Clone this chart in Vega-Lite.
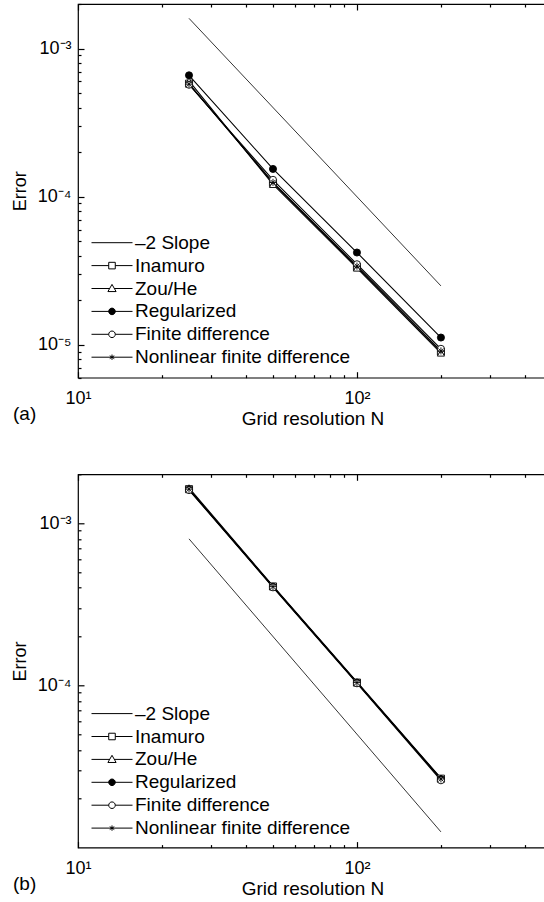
{
  "$schema": "https://vega.github.io/schema/vega-lite/v6.json",
  "padding": {"left": 10, "top": 2, "right": 0, "bottom": 0},
  "datasets": {
    "top": [
      {"N": 25, "error": 0.0016, "series": "–2 Slope"},
      {"N": 200, "error": 0.000025, "series": "–2 Slope"},
      {"N": 25, "error": 0.00058, "series": "Inamuro"},
      {"N": 50, "error": 0.000124, "series": "Inamuro"},
      {"N": 100, "error": 0.0000335, "series": "Inamuro"},
      {"N": 200, "error": 0.0000090, "series": "Inamuro"},
      {"N": 25, "error": 0.000605, "series": "Zou/He"},
      {"N": 50, "error": 0.000121, "series": "Zou/He"},
      {"N": 100, "error": 0.000033, "series": "Zou/He"},
      {"N": 200, "error": 0.0000088, "series": "Zou/He"},
      {"N": 25, "error": 0.00066, "series": "Regularized"},
      {"N": 50, "error": 0.000154, "series": "Regularized"},
      {"N": 100, "error": 0.000042, "series": "Regularized"},
      {"N": 200, "error": 0.0000112, "series": "Regularized"},
      {"N": 25, "error": 0.00057, "series": "Finite difference"},
      {"N": 50, "error": 0.00013, "series": "Finite difference"},
      {"N": 100, "error": 0.000035, "series": "Finite difference"},
      {"N": 200, "error": 0.0000094, "series": "Finite difference"},
      {"N": 25, "error": 0.000575, "series": "Nonlinear finite difference"},
      {"N": 50, "error": 0.000125, "series": "Nonlinear finite difference"},
      {"N": 100, "error": 0.000034, "series": "Nonlinear finite difference"},
      {"N": 200, "error": 0.0000091, "series": "Nonlinear finite difference"}
    ],
    "bottom": [
      {"N": 25, "error": 0.0008, "series": "–2 Slope"},
      {"N": 200, "error": 0.0000125, "series": "–2 Slope"},
      {"N": 25, "error": 0.00162, "series": "Inamuro"},
      {"N": 50, "error": 0.000407, "series": "Inamuro"},
      {"N": 100, "error": 0.000104, "series": "Inamuro"},
      {"N": 200, "error": 0.0000266, "series": "Inamuro"},
      {"N": 25, "error": 0.00165, "series": "Zou/He"},
      {"N": 50, "error": 0.00041, "series": "Zou/He"},
      {"N": 100, "error": 0.000105, "series": "Zou/He"},
      {"N": 200, "error": 0.0000268, "series": "Zou/He"},
      {"N": 25, "error": 0.00161, "series": "Regularized"},
      {"N": 50, "error": 0.000405, "series": "Regularized"},
      {"N": 100, "error": 0.000104, "series": "Regularized"},
      {"N": 200, "error": 0.0000264, "series": "Regularized"},
      {"N": 25, "error": 0.0016, "series": "Finite difference"},
      {"N": 50, "error": 0.000402, "series": "Finite difference"},
      {"N": 100, "error": 0.000103, "series": "Finite difference"},
      {"N": 200, "error": 0.000026, "series": "Finite difference"},
      {"N": 25, "error": 0.00162, "series": "Nonlinear finite difference"},
      {"N": 50, "error": 0.000406, "series": "Nonlinear finite difference"},
      {"N": 100, "error": 0.000104, "series": "Nonlinear finite difference"},
      {"N": 200, "error": 0.0000265, "series": "Nonlinear finite difference"}
    ]
  },
  "vconcat": [
    {
      "width": 469,
      "height": 373.7,
      "data": {"name": "top"},
      "title": {"text": "(a)", "orient": "bottom", "anchor": "start", "frame": "group", "dx": -65, "dy": -24, "offset": 0, "fontSize": 19, "fontWeight": "normal", "font": "Liberation Sans", "color": "black"},
      "layer": [
        {
          "transform": [{"filter": "datum.series === '–2 Slope'"}],
          "mark": {"type": "line", "color": "black", "strokeWidth": 0.8},
          "encoding": {
            "x": {"field": "N", "type": "quantitative", "scale": {"type": "log", "domain": [10, 480], "nice": false},
              "axis": {"orient": "bottom", "values": [10, 100], "labelExpr": "datum.value < 50 ? '10¹' : '10²'", "offset": -6, "tickSize": 6, "domain": false, "labelPadding": 12, "labelFlush": false, "labelOverlap": false, "title": "Grid resolution N", "titlePadding": 2}},
            "y": {"field": "error", "type": "quantitative", "scale": {"type": "log", "domain": [0.000006, 0.002], "nice": false},
              "axis": {"orient": "left", "values": [0.00001, 0.0001, 0.001], "labelExpr": "datum.value < 0.00005 ? '10⁻⁵' : datum.value < 0.0005 ? '10⁻⁴' : '10⁻³'", "offset": -6, "tickSize": 6, "domain": false, "labelPadding": 7, "labelFlush": false, "labelOverlap": false, "title": "Error", "titleFontSize": 18, "titlePadding": 8}}
          }
        },
        {
          "transform": [{"filter": "datum.series !== '–2 Slope'"}],
          "mark": {"type": "line", "color": "black", "strokeWidth": 1.1},
          "encoding": {
            "x": {"field": "N", "type": "quantitative", "scale": {"type": "log", "domain": [10, 480], "nice": false},
              "axis": {"orient": "top", "values": [10, 100], "labels": false, "domain": false, "offset": -6, "tickSize": 6, "title": null}},
            "y": {"field": "error", "type": "quantitative", "scale": {"type": "log", "domain": [0.000006, 0.002], "nice": false},
              "axis": {"orient": "left", "values": [0.000006, 0.000007, 0.000008, 0.000009, 0.00002, 0.00003, 0.00004, 0.00005, 0.00006, 0.00007, 0.00008, 0.00009, 0.0002, 0.0003, 0.0004, 0.0005, 0.0006, 0.0007, 0.0008, 0.0009, 0.002], "labels": false, "domain": false, "offset": -3, "tickSize": 3, "title": null}},
            "detail": {"field": "series"}
          }
        },
        {
          "transform": [{"filter": "datum.series !== '–2 Slope'"}],
          "mark": {"type": "point", "filled": true, "stroke": "black", "strokeWidth": 0.9, "size": 50, "opacity": 1},
          "encoding": {
            "x": {"field": "N", "type": "quantitative", "scale": {"type": "log", "domain": [10, 480], "nice": false},
              "axis": {"orient": "bottom", "values": [20, 30, 40, 50, 60, 70, 80, 90, 200, 300, 400], "labels": false, "domain": false, "offset": -3, "tickSize": 3, "title": null}},
            "y": {"field": "error", "type": "quantitative", "scale": {"type": "log", "domain": [0.000006, 0.002], "nice": false}, "axis": null},
            "shape": {"field": "series", "type": "nominal", "legend": null,
              "scale": {"domain": ["Inamuro", "Zou/He", "Regularized", "Finite difference", "Nonlinear finite difference"],
                "range": ["square", "triangle-up", "circle", "circle", "M-1,0H1M0,-1V1M-0.7,-0.7L0.7,0.7M-0.7,0.7L0.7,-0.7"]}},
            "fill": {"field": "series", "type": "nominal", "legend": null,
              "scale": {"domain": ["Inamuro", "Zou/He", "Regularized", "Finite difference", "Nonlinear finite difference"],
                "range": ["white", "white", "black", "white", "transparent"]}}
          }
        },
        {
          "mark": {"type": "point", "filled": true, "stroke": "black", "strokeWidth": 1, "opacity": 0},
          "encoding": {
            "x": {"field": "N", "type": "quantitative", "scale": {"type": "log", "domain": [10, 480], "nice": false},
              "axis": {"orient": "top", "values": [20, 30, 40, 50, 60, 70, 80, 90, 200, 300, 400], "labels": false, "domain": false, "offset": -3, "tickSize": 3, "title": null}},
            "y": {"field": "error", "type": "quantitative", "scale": {"type": "log", "domain": [0.000006, 0.002], "nice": false}, "axis": null},
            "shape": {"field": "series", "type": "nominal",
              "scale": {"domain": ["–2 Slope", "Inamuro", "Zou/He", "Regularized", "Finite difference", "Nonlinear finite difference"],
                "range": ["M-1,0H1", "M-1,0H-0.16M0.16,0H1M-0.16,-0.16H0.16V0.16H-0.16Z", "M-1,0H-0.11M0.11,0H1M0,-0.2L0.2,0.15H-0.2Z", "M-1,0H1M-0.16,0A0.16,0.16 0 1,0 0.16,0A0.16,0.16 0 1,0 -0.16,0Z", "M-1,0H-0.16M0.16,0H1M-0.16,0A0.16,0.16 0 1,0 0.16,0A0.16,0.16 0 1,0 -0.16,0Z", "M-1,0H1M0,-0.13V0.13M-0.11,-0.07L0.11,0.07M-0.11,0.07L0.11,-0.07"]},
              "legend": {"title": null, "orient": "none", "legendX": 13, "legendY": 228.7, "padding": 0, "symbolSize": 1681, "clipHeight": 20, "rowPadding": 2.9, "labelFontSize": 19, "labelFont": "Liberation Sans", "labelColor": "black", "labelOffset": 2, "symbolStrokeColor": "black", "symbolStrokeWidth": 1, "symbolOpacity": 1, "labelLimit": 400,
                "encode": {"symbols": {"update": {"stroke": {"value": "black"}, "strokeWidth": {"value": 1}, "opacity": {"value": 1}}}}}},
            "fill": {"field": "series", "type": "nominal",
              "scale": {"domain": ["–2 Slope", "Inamuro", "Zou/He", "Regularized", "Finite difference", "Nonlinear finite difference"],
                "range": ["transparent", "white", "white", "black", "white", "transparent"]},
              "legend": {"title": null, "orient": "none", "legendX": 13, "legendY": 228.7, "padding": 0, "symbolSize": 1681, "clipHeight": 20, "rowPadding": 2.9, "labelFontSize": 19, "labelFont": "Liberation Sans", "labelColor": "black", "labelOffset": 2, "symbolStrokeColor": "black", "symbolStrokeWidth": 1, "symbolOpacity": 1, "labelLimit": 400,
                "encode": {"symbols": {"update": {"stroke": {"value": "black"}, "strokeWidth": {"value": 1}, "opacity": {"value": 1}}}}}}
          }
        }
      ],
      "resolve": {"axis": {"x": "independent", "y": "independent"}, "scale": {"shape": "independent", "fill": "independent"}}
    },
    {
      "width": 469,
      "height": 373.3,
      "data": {"name": "bottom"},
      "title": {"text": "(b)", "orient": "bottom", "anchor": "start", "frame": "group", "dx": -65, "dy": -24, "offset": 0, "fontSize": 19, "fontWeight": "normal", "font": "Liberation Sans", "color": "black"},
      "layer": [
        {
          "transform": [{"filter": "datum.series === '–2 Slope'"}],
          "mark": {"type": "line", "color": "black", "strokeWidth": 0.8},
          "encoding": {
            "x": {"field": "N", "type": "quantitative", "scale": {"type": "log", "domain": [10, 480], "nice": false},
              "axis": {"orient": "bottom", "values": [10, 100], "labelExpr": "datum.value < 50 ? '10¹' : '10²'", "offset": -6, "tickSize": 6, "domain": false, "labelPadding": 12, "labelFlush": false, "labelOverlap": false, "title": "Grid resolution N", "titlePadding": 2}},
            "y": {"field": "error", "type": "quantitative", "scale": {"type": "log", "domain": [0.00001, 0.002], "nice": false},
              "axis": {"orient": "left", "values": [0.0001, 0.001], "labelExpr": "datum.value < 0.0005 ? '10⁻⁴' : '10⁻³'", "offset": -6, "tickSize": 6, "domain": false, "labelPadding": 7, "labelFlush": false, "labelOverlap": false, "title": "Error", "titleFontSize": 18, "titlePadding": 8}}
          }
        },
        {
          "transform": [{"filter": "datum.series !== '–2 Slope'"}],
          "mark": {"type": "line", "color": "black", "strokeWidth": 1.1},
          "encoding": {
            "x": {"field": "N", "type": "quantitative", "scale": {"type": "log", "domain": [10, 480], "nice": false},
              "axis": {"orient": "top", "values": [10, 100], "labels": false, "domain": false, "offset": -6, "tickSize": 6, "title": null}},
            "y": {"field": "error", "type": "quantitative", "scale": {"type": "log", "domain": [0.00001, 0.002], "nice": false},
              "axis": {"orient": "left", "values": [0.00002, 0.00003, 0.00004, 0.00005, 0.00006, 0.00007, 0.00008, 0.00009, 0.0002, 0.0003, 0.0004, 0.0005, 0.0006, 0.0007, 0.0008, 0.0009, 0.002], "labels": false, "domain": false, "offset": -3, "tickSize": 3, "title": null}},
            "detail": {"field": "series"}
          }
        },
        {
          "transform": [{"filter": "datum.series !== '–2 Slope'"}],
          "mark": {"type": "point", "filled": true, "stroke": "black", "strokeWidth": 0.9, "size": 50, "opacity": 1},
          "encoding": {
            "x": {"field": "N", "type": "quantitative", "scale": {"type": "log", "domain": [10, 480], "nice": false},
              "axis": {"orient": "bottom", "values": [20, 30, 40, 50, 60, 70, 80, 90, 200, 300, 400], "labels": false, "domain": false, "offset": -3, "tickSize": 3, "title": null}},
            "y": {"field": "error", "type": "quantitative", "scale": {"type": "log", "domain": [0.00001, 0.002], "nice": false}, "axis": null},
            "shape": {"field": "series", "type": "nominal", "legend": null,
              "scale": {"domain": ["Inamuro", "Zou/He", "Regularized", "Finite difference", "Nonlinear finite difference"],
                "range": ["square", "triangle-up", "circle", "circle", "M-1,0H1M0,-1V1M-0.7,-0.7L0.7,0.7M-0.7,0.7L0.7,-0.7"]}},
            "fill": {"field": "series", "type": "nominal", "legend": null,
              "scale": {"domain": ["Inamuro", "Zou/He", "Regularized", "Finite difference", "Nonlinear finite difference"],
                "range": ["white", "white", "black", "white", "transparent"]}}
          }
        },
        {
          "mark": {"type": "point", "filled": true, "stroke": "black", "strokeWidth": 1, "opacity": 0},
          "encoding": {
            "x": {"field": "N", "type": "quantitative", "scale": {"type": "log", "domain": [10, 480], "nice": false},
              "axis": {"orient": "top", "values": [20, 30, 40, 50, 60, 70, 80, 90, 200, 300, 400], "labels": false, "domain": false, "offset": -3, "tickSize": 3, "title": null}},
            "y": {"field": "error", "type": "quantitative", "scale": {"type": "log", "domain": [0.00001, 0.002], "nice": false}, "axis": null},
            "shape": {"field": "series", "type": "nominal",
              "scale": {"domain": ["–2 Slope", "Inamuro", "Zou/He", "Regularized", "Finite difference", "Nonlinear finite difference"],
                "range": ["M-1,0H1", "M-1,0H-0.16M0.16,0H1M-0.16,-0.16H0.16V0.16H-0.16Z", "M-1,0H-0.11M0.11,0H1M0,-0.2L0.2,0.15H-0.2Z", "M-1,0H1M-0.16,0A0.16,0.16 0 1,0 0.16,0A0.16,0.16 0 1,0 -0.16,0Z", "M-1,0H-0.16M0.16,0H1M-0.16,0A0.16,0.16 0 1,0 0.16,0A0.16,0.16 0 1,0 -0.16,0Z", "M-1,0H1M0,-0.13V0.13M-0.11,-0.07L0.11,0.07M-0.11,0.07L0.11,-0.07"]},
              "legend": {"title": null, "orient": "none", "legendX": 13, "legendY": 229.3, "padding": 0, "symbolSize": 1681, "clipHeight": 20, "rowPadding": 2.9, "labelFontSize": 19, "labelFont": "Liberation Sans", "labelColor": "black", "labelOffset": 2, "symbolStrokeColor": "black", "symbolStrokeWidth": 1, "symbolOpacity": 1, "labelLimit": 400,
                "encode": {"symbols": {"update": {"stroke": {"value": "black"}, "strokeWidth": {"value": 1}, "opacity": {"value": 1}}}}}},
            "fill": {"field": "series", "type": "nominal",
              "scale": {"domain": ["–2 Slope", "Inamuro", "Zou/He", "Regularized", "Finite difference", "Nonlinear finite difference"],
                "range": ["transparent", "white", "white", "black", "white", "transparent"]},
              "legend": {"title": null, "orient": "none", "legendX": 13, "legendY": 229.3, "padding": 0, "symbolSize": 1681, "clipHeight": 20, "rowPadding": 2.9, "labelFontSize": 19, "labelFont": "Liberation Sans", "labelColor": "black", "labelOffset": 2, "symbolStrokeColor": "black", "symbolStrokeWidth": 1, "symbolOpacity": 1, "labelLimit": 400,
                "encode": {"symbols": {"update": {"stroke": {"value": "black"}, "strokeWidth": {"value": 1}, "opacity": {"value": 1}}}}}}
          }
        }
      ],
      "resolve": {"axis": {"x": "independent", "y": "independent"}, "scale": {"shape": "independent", "fill": "independent"}}
    }
  ],
  "spacing": 96.3,
  "bounds": "flush",
  "config": {
    "font": "Liberation Sans",
    "view": {"stroke": "black", "strokeWidth": 1.2},
    "axis": {"domainColor": "black", "domainWidth": 1.2, "tickColor": "black", "tickWidth": 1.2, "labelColor": "black", "titleColor": "black", "labelFont": "Liberation Sans", "titleFont": "Liberation Sans", "labelFontSize": 18, "titleFontSize": 19, "titleFontWeight": "normal", "grid": false}
  }
}
